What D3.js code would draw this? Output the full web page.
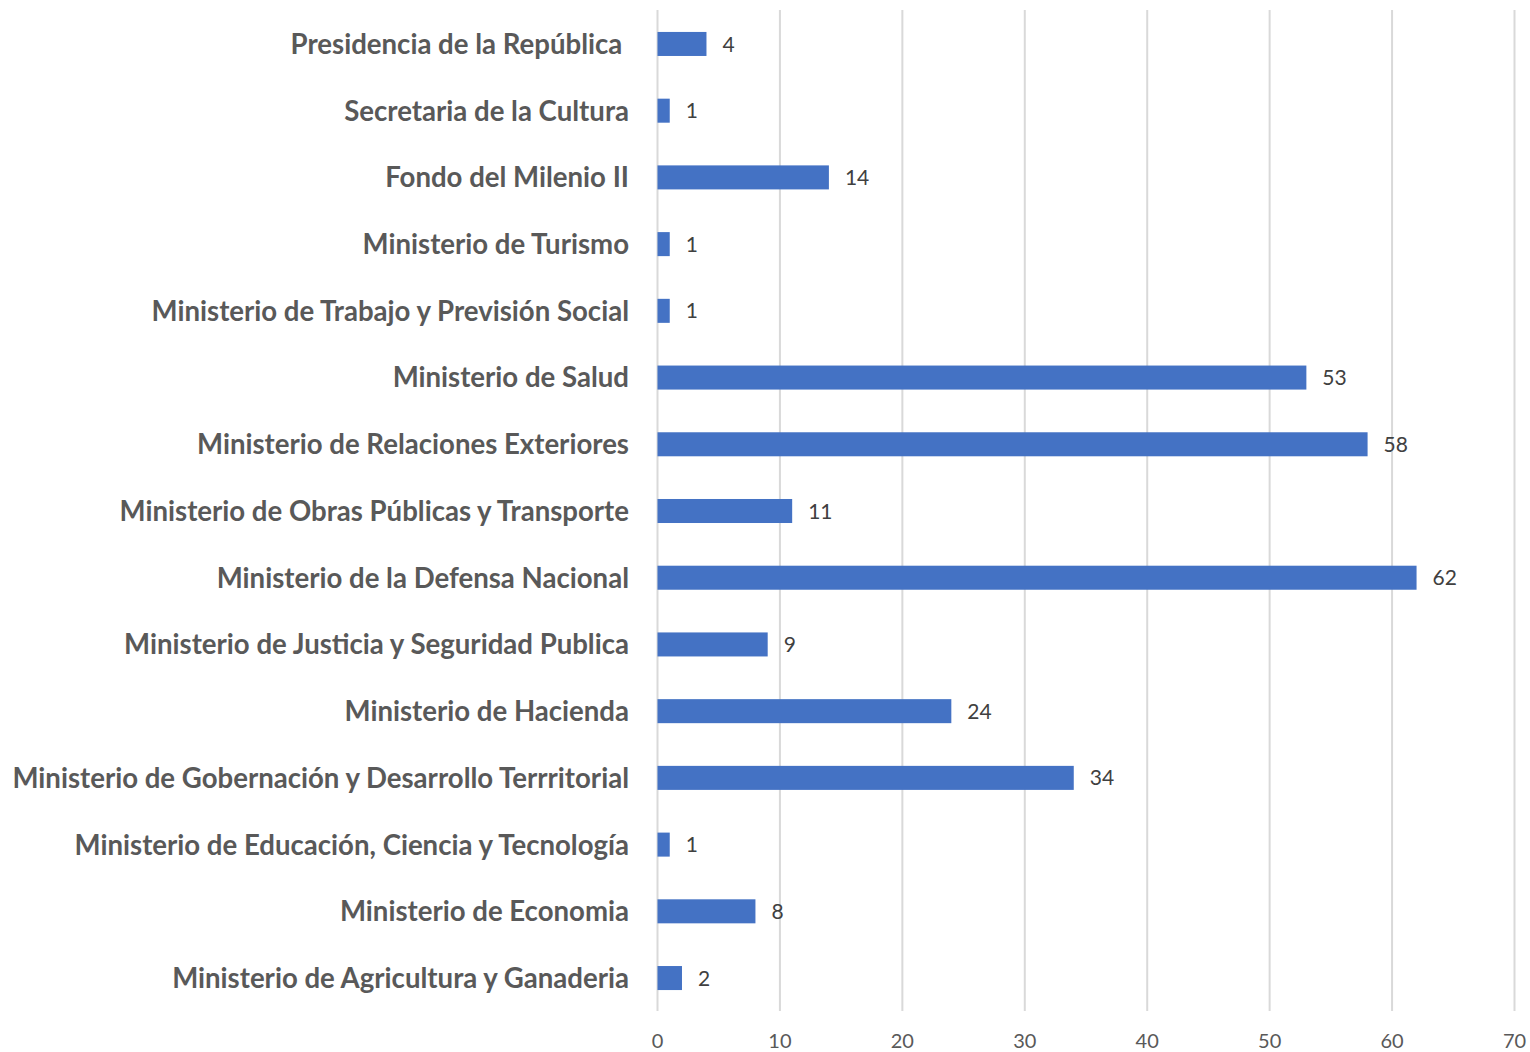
<!DOCTYPE html>
<html><head><meta charset="utf-8">
<script src="https://cdn.jsdelivr.net/npm/d3@7"></script>
<style>body{margin:0;background:#fff}svg{display:block}</style>
</head><body>
<svg id="c" width="1530" height="1052"></svg>
<script>
const categories = [
 "Presidencia de la República\u00a0",
 "Secretaria de la Cultura",
 "Fondo del Milenio II",
 "Ministerio de Turismo",
 "Ministerio de Trabajo y Previsión Social",
 "Ministerio de Salud",
 "Ministerio de Relaciones Exteriores",
 "Ministerio de Obras Públicas y Transporte",
 "Ministerio de la Defensa Nacional",
 "Ministerio de Justicia y Seguridad Publica",
 "Ministerio de Hacienda",
 "Ministerio de Gobernación y Desarrollo Terrritorial",
 "Ministerio de Educación, Ciencia y Tecnología",
 "Ministerio de Economia",
 "Ministerio de Agricultura y Ganaderia"
];
const values = [4,1,14,1,1,53,58,11,62,9,24,34,1,8,2];
const xTicks = [0,10,20,30,40,50,60,70];

const svg = d3.select("#c");
const x = d3.scaleLinear().domain([0,70]).range([657.5,1514.5]);
const y = d3.scaleBand().domain(categories).range([10.6,1011.4]).paddingInner(0.64).paddingOuter(0.32);

// gridlines
svg.append("g").selectAll("line").data(xTicks).join("line")
  .attr("x1",d=>x(d)).attr("x2",d=>x(d)).attr("y1",10).attr("y2",1011)
  .attr("stroke","#d9d9d9").attr("stroke-width",2);

// bars
svg.append("g").selectAll("rect").data(values).join("rect")
  .attr("x",x(0)).attr("y",(d,i)=>y(categories[i]))
  .attr("width",d=>x(d)-x(0)).attr("height",y.bandwidth())
  .attr("fill","#4472C4");

// value labels
svg.append("g").selectAll("text").data(values).join("text")
  .attr("x",d=>x(d)+16).attr("y",(d,i)=>y(categories[i])+y.bandwidth()/2)
  .attr("dy","0.36em").attr("font-family","Lato, 'Open Sans', sans-serif")
  .attr("font-size",21).attr("fill","#404040").text(d=>d);

// category labels
const lab = svg.append("g").selectAll("text").data(categories).join("text")
  .attr("x",629).attr("y",d=>y(d)+y.bandwidth()/2).attr("dy","0.36em")
  .attr("text-anchor","end").attr("font-family","Lato, 'Open Sans', sans-serif")
  .attr("font-weight","bold").attr("font-size",24).attr("fill","#595959")
  .style("white-space","pre").text(d=>d);
let maxW = 0; lab.each(function(){maxW=Math.max(maxW,this.getComputedTextLength());});
lab.attr("font-size", 24*617/maxW);

// x axis tick labels
svg.append("g").selectAll("text").data(xTicks).join("text")
  .attr("x",d=>x(d)).attr("y",1048).attr("text-anchor","middle")
  .attr("font-family","Lato, 'Open Sans', sans-serif").attr("font-size",20).attr("fill","#595959")
  .text(d=>d);
</script>
</body></html>
